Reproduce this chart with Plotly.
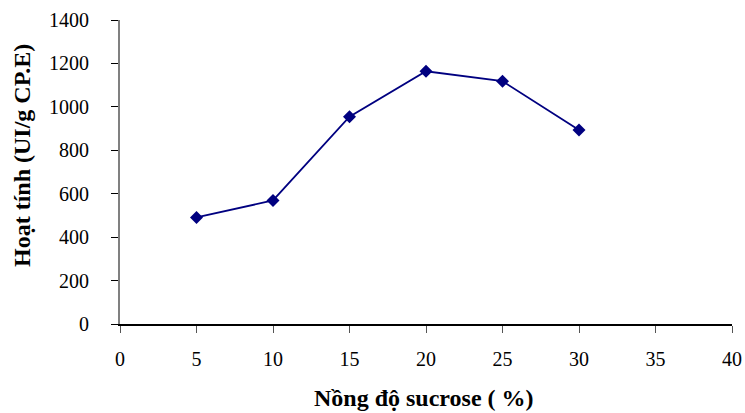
import plotly.graph_objects as go

sucrose = [5, 10, 15, 20, 25, 30]
activity = [491, 569, 955, 1164, 1118, 893]
x_ticks = [0, 5, 10, 15, 20, 25, 30, 35, 40]
y_ticks = [0, 200, 400, 600, 800, 1000, 1200, 1400]
x_title = "Nồng độ sucrose ( %)"
y_title = "Hoạt tính (UI/g CP.E)"

fig = go.Figure()
fig.add_trace(go.Scatter(
    x=sucrose, y=activity, mode="lines+markers",
    line=dict(color="#000080", width=1.8),
    marker=dict(symbol="diamond", size=10, color="#000080"),
    showlegend=False,
))

font = "Liberation Serif, Times New Roman, serif"
L, R, T, B = 120, 13, 20, 89
W, H = 745, 413
pw, ph = W - L - R, H - T - B
fig.update_layout(
    width=W, height=H,
    margin=dict(l=L, r=R, t=T, b=B, autoexpand=False),
    paper_bgcolor="white", plot_bgcolor="white",
    font=dict(family=font, color="black"),
)
fig.update_xaxes(
    range=[0, 40], tickvals=x_ticks, ticktext=[str(v) for v in x_ticks],
    showgrid=False, zeroline=False, showline=True, linecolor="black", linewidth=1.5,
    ticks="outside", ticklen=7, tickcolor="#555", tickwidth=1.3,
    tickfont=dict(size=20, family=font), automargin=False, ticklabelstandoff=9,
)
fig.update_yaxes(
    range=[0, 1400], tickvals=y_ticks, ticktext=[str(v) for v in y_ticks],
    showgrid=False, zeroline=False, showline=True, linecolor="#808080", linewidth=2,
    ticks="outside", ticklen=7, tickcolor="black", tickwidth=1.3,
    tickfont=dict(size=20, family=font), automargin=False, ticklabelstandoff=18,
)
fig.add_annotation(
    text="<b>" + x_title + "</b>", xref="paper", yref="paper",
    x=(424 - L) / pw, y=-(398 - (T + ph)) / ph, xanchor="center", yanchor="middle",
    showarrow=False, font=dict(size=24, family=font),
)
fig.add_annotation(
    text="<b>" + y_title + "</b>", xref="paper", yref="paper",
    x=(22 - L) / pw, y=(T + ph - 156) / ph, xanchor="center", yanchor="middle",
    textangle=-90, showarrow=False, font=dict(size=24, family=font),
)
fig.write_html("out.html", config={"displayModeBar": False},
               post_script="document.body.style.margin='0';")
